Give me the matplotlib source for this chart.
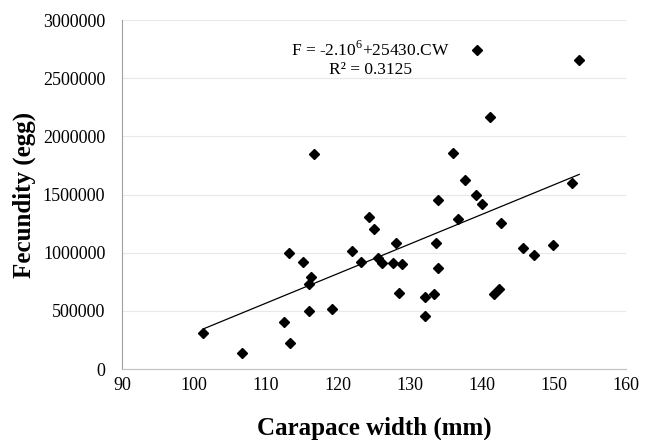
import numpy as np
import matplotlib
matplotlib.use("Agg")
import matplotlib.pyplot as plt

# carapace width (mm) and fecundity (eggs)
carapaceWidth = [101.3, 106.7, 112.5, 113.3, 113.2, 115.1, 116.0, 116.3, 116.0,
                 116.6, 119.2, 122.0, 123.2, 124.35, 124.96, 125.5, 126.1, 127.7,
                 128.0, 128.5, 128.9, 132.1, 132.1, 133.3, 133.6, 133.9, 133.9,
                 135.9, 136.6, 137.7, 139.2, 139.26, 140.0, 141.1, 141.6, 142.4,
                 142.6, 145.7, 147.2, 149.8, 152.5, 153.5]
fecundity = [309000, 140000, 404000, 229000, 997000, 920000, 498000, 791000, 728000,
             1847000, 519000, 1018000, 917000, 1307000, 1207000, 958000, 909000, 911000,
             1083000, 655000, 906000, 619000, 455000, 645000, 1087000, 866000, 1450000,
             1861000, 1293000, 1629000, 1494000, 2741000, 1419000, 2168000, 642000, 685000,
             1256000, 1040000, 980000, 1070000, 1600000, 2653000]

slope = 25430
intercept = -2.23e6
xTicks = [90, 100, 110, 120, 130, 140, 150, 160]
yTicks = [0, 500000, 1000000, 1500000, 2000000, 2500000, 3000000]

plt.rcParams['font.family'] = ['Liberation Serif', 'DejaVu Serif']
plt.rcParams['mathtext.fontset'] = 'custom'
plt.rcParams['mathtext.rm'] = 'Liberation Serif'

fig = plt.figure(figsize=(6.49, 4.40), dpi=100)
ax = fig.add_axes([0.188, 0.161, 0.7766, 0.7935])

ax.grid(axis='y', color='#e8e8e8', linewidth=0.8, zorder=0)
ax.set_axisbelow(True)

# trend line over the range of the data
lineX = np.array([min(carapaceWidth), max(carapaceWidth)])
ax.plot(lineX, intercept + slope * lineX, color='black', linewidth=0.9, zorder=2)
ax.plot(carapaceWidth, fecundity, linestyle='none', marker='D', markersize=5.2,
        color='black', zorder=3)

ax.set_xlim(90, 160)
ax.set_ylim(0, 3000000)
ax.set_xticks(xTicks)
ax.set_yticks(yTicks)
ax.set_xticklabels([str(t) for t in xTicks])
ax.set_yticklabels([str(t) for t in yTicks])
ax.tick_params(length=0, labelsize=13, pad=6)
ax.tick_params(axis='y', pad=12)

for side in ['top', 'right']:
    ax.spines[side].set_visible(False)
ax.spines['left'].set_color('#a0a0a0')
ax.spines['bottom'].set_color('#c0c0c0')

ax.set_xlabel('Carapace width (mm)', fontsize=18, fontweight='bold', labelpad=16)
ax.set_ylabel('Fecundity (egg)', fontsize=18, fontweight='bold', labelpad=5)

ax.text(0.493, 0.913, 'F = -2.10$^6$+25430.CW', transform=ax.transAxes,
        ha='center', va='center', fontsize=12.5)
ax.text(0.493, 0.858, 'R\u00b2 = 0.3125', transform=ax.transAxes,
        ha='center', va='center', fontsize=12.5)

fig.savefig('out.png', dpi=100)
